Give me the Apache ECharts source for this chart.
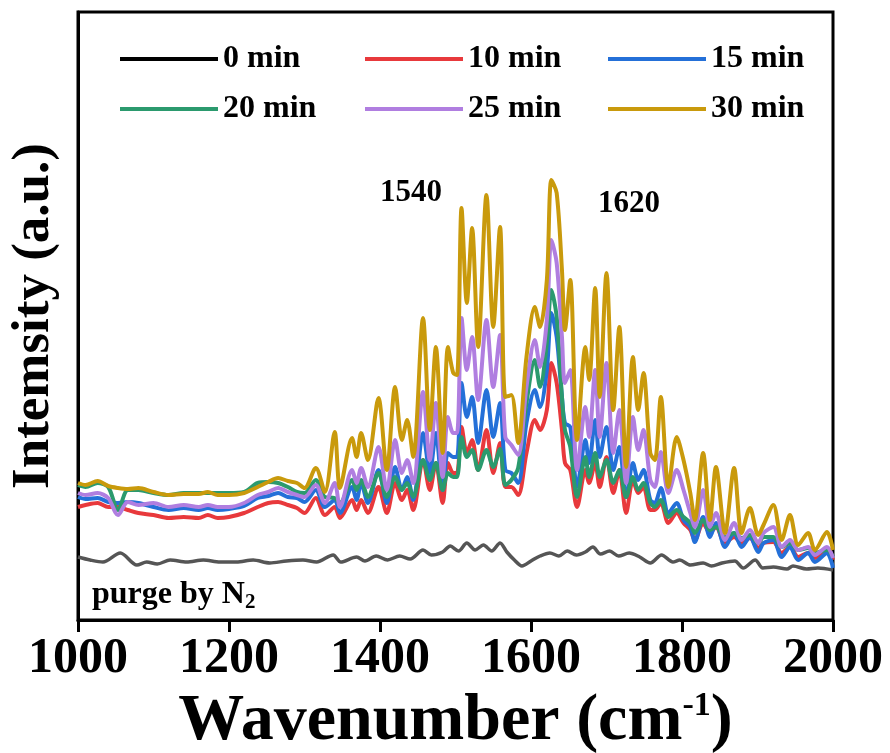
<!DOCTYPE html>
<html>
<head>
<meta charset="utf-8">
<script src="https://cdn.jsdelivr.net/npm/echarts@6/dist/echarts.min.js"></script>
<style>
  html, body { margin: 0; padding: 0; background: #fff; }
  #chart { width: 890px; height: 753px; }
</style>
</head>
<body>
<div id="chart"></div>
<script>
// wavenumber grid shared by the 10-30 min spectra (cm-1)
const wavenumbers = [1000,1010,1026,1040,1053,1066,1080,1100,1120,1140,1160,1172,1185,1200,1220,1238,1252,1265,1278,1290,1300,1315,1327,1340,1347,1363,1369,1375,1384,1398,1409,1420,1429,1436,1444,1457,1466,1474,1483,1490,1497,1502,1508,1515,1522,1530,1541,1550,1559,1566,1574,1583,1594,1605,1612,1621,1627,1634,1641,1645,1652,1661,1672,1677,1685,1691,1700,1709,1717,1726,1735,1742,1749,1758,1764,1772,1782,1793,1802,1811,1817,1828,1837,1845,1857,1869,1879,1890,1901,1908,1921,1932,1943,1954,1967,1976,1992,2000];

const min10 = [113,115,117,113,113,110,107,105,102,103,102,105,102,103,107,113,117,118,115,112,107,122,105,113,102,120,110,120,107,133,107,137,120,130,110,160,130,157,117,157,147,147,193,167,180,150,190,147,177,133,133,125,167,200,190,210,257,237,190,157,150,113,150,137,157,133,163,127,150,107,140,127,133,110,110,117,97,107,97,90,80,97,87,93,77,83,77,82,72,77,78,67,73,63,67,62,70,60];
const min15 = [123,121,122,118,117,118,117,113,110,112,110,112,110,111,114,122,124,127,123,122,118,130,113,120,107,133,120,137,117,150,117,153,130,143,120,187,147,187,130,167,163,163,237,203,223,177,230,183,217,150,147,137,197,230,213,250,307,283,223,197,193,133,180,157,200,163,193,150,173,123,157,140,150,120,117,132,107,117,100,93,78,103,83,97,73,87,73,83,68,77,80,63,73,60,67,58,67,52];
const min20 = [135,133,137,133,110,130,130,127,125,127,127,127,127,127,128,137,138,137,133,128,127,140,123,122,117,140,130,140,123,147,123,143,130,137,123,160,140,157,130,147,143,143,183,163,170,150,170,153,171,135,140,152,217,260,233,277,330,303,223,190,173,123,163,143,167,143,160,137,150,123,143,130,137,117,113,120,103,110,103,97,87,100,90,93,83,87,82,85,77,83,83,73,77,70,72,67,70,63];
const min25 = [127,125,127,122,105,118,115,117,113,115,113,115,113,113,117,125,128,132,128,125,123,135,117,137,113,150,137,152,133,173,130,180,147,160,137,228,160,217,143,203,187,187,302,250,283,220,300,233,285,183,175,165,233,280,253,300,380,357,283,237,250,150,213,183,250,183,257,167,210,137,203,170,190,140,133,168,127,150,130,107,93,130,93,107,80,97,80,90,77,87,93,73,80,70,73,65,73,62];
const min30 = [137,135,139,134,132,131,132,128,125,126,126,128,125,125,127,133,138,142,139,137,132,152,128,188,132,182,163,187,160,222,150,233,180,200,163,302,190,273,167,273,247,245,412,317,392,273,425,293,393,223,225,177,263,313,293,340,440,427,350,290,340,180,273,240,332,223,347,210,293,153,263,210,247,167,160,223,133,183,160,127,100,167,100,153,87,152,87,112,85,95,115,80,105,75,87,70,88,70];

// 0 min (purge by N2) has its own grid
const wavenumbers0 = [1000,1016,1033,1056,1078,1091,1105,1122,1144,1166,1188,1210,1232,1254,1276,1298,1316,1338,1348,1369,1380,1395,1410,1426,1440,1457,1468,1483,1493,1504,1515,1526,1537,1548,1559,1568,1578,1588,1600,1612,1625,1637,1648,1660,1672,1682,1692,1704,1716,1730,1744,1758,1773,1788,1797,1811,1828,1839,1853,1870,1881,1897,1907,1921,1939,1947,1965,1980,2000];
const min0 = [63,60,58,67,55,58,56,60,58,60,58,58,60,57,59,60,58,65,58,63,59,64,60,64,61,70,65,68,74,69,77,70,75,69,77,68,60,54,59,64,67,64,69,65,68,73,66,69,64,67,63,57,65,58,60,55,57,54,57,59,52,60,52,53,51,54,51,52,50];

const xTicks = [1000, 1200, 1400, 1600, 1800, 2000];
const seriesNames = ['0 min', '10 min', '15 min', '20 min', '25 min', '30 min'];

const serif = "'Liberation Serif', 'Times New Roman', serif";
const colors = ['#555555', '#e8393c', '#2470d8', '#2b9a6e', '#b07ee0', '#c99a0c'];

const zip = (xs, ys) => xs.map((x, i) => [x, ys[i]]);
const allData = [
  zip(wavenumbers0, min0),
  zip(wavenumbers, min10),
  zip(wavenumbers, min15),
  zip(wavenumbers, min20),
  zip(wavenumbers, min25),
  zip(wavenumbers, min30),
];

const legendBase = {
  orient: 'vertical',
  top: 38,
  icon: 'rect',
  itemWidth: 98,
  itemHeight: 4,
  itemGap: 18,
  textStyle: { fontFamily: serif, fontWeight: 'bold', fontSize: 32, color: '#000' },
};

const chart = echarts.init(document.getElementById('chart'));
chart.setOption({
  animation: false,
  backgroundColor: '#fff',
  grid: {
    left: 78, right: 57, top: 12, bottom: 133,
    outerBoundsMode: 'none',
    show: true, borderColor: '#000', borderWidth: 3,
  },
  legend: [
    { ...legendBase, left: 115, data: [{ name: '0 min', itemStyle: { color: '#000' } }, '20 min'] },
    { ...legendBase, left: 360, data: ['10 min', '25 min'] },
    { ...legendBase, left: 603, data: ['15 min', '30 min'] },
  ],
  xAxis: {
    type: 'value',
    min: 1000,
    max: 2000,
    interval: 200,
    name: '{a|Wavenumber (cm}{s|-1}{a|)}',
    nameLocation: 'middle',
    nameGap: 58,
    nameTextStyle: {
      rich: {
        a: { fontFamily: serif, fontWeight: 'bold', fontSize: 66, color: '#000' },
        s: { fontFamily: serif, fontWeight: 'bold', fontSize: 34, color: '#000', verticalAlign: 'top', padding: [0, 0, 32, 0] },
      },
    },
    axisLine: { lineStyle: { color: '#000', width: 3 } },
    axisTick: { length: 12, lineStyle: { color: '#000', width: 3 } },
    axisLabel: {
      margin: 14,
      fontFamily: serif,
      fontWeight: 'bold',
      fontSize: 50,
      color: '#000',
      formatter: (v) => (xTicks.includes(v) ? String(v) : ''),
    },
    splitLine: { show: false },
  },
  yAxis: {
    type: 'value',
    min: 0,
    max: 608,
    name: 'Intemsity (a.u.)',
    nameLocation: 'middle',
    nameGap: 17,
    nameRotate: 90,
    nameTextStyle: { fontFamily: serif, fontWeight: 'bold', fontSize: 53, color: '#000' },
    axisLine: { show: true, lineStyle: { color: '#000', width: 3 } },
    axisTick: { show: false },
    axisLabel: { show: false },
    splitLine: { show: false },
  },
  graphic: [
    { type: 'text', left: 380, top: 177, style: { text: '1540', fontFamily: serif, fontWeight: 'bold', fontSize: 31, fill: '#000' } },
    { type: 'text', left: 598, top: 188, style: { text: '1620', fontFamily: serif, fontWeight: 'bold', fontSize: 31, fill: '#000' } },
    {
      type: 'text', left: 92, top: 579,
      style: {
        text: '{a|purge by N}{b|2}',
        rich: {
          a: { fontFamily: serif, fontWeight: 'bold', fontSize: 32, fill: '#000' },
          b: { fontFamily: serif, fontWeight: 'bold', fontSize: 21, fill: '#000', padding: [16, 0, 0, 0] },
        },
      },
    },
  ],
  series: seriesNames.map((name, i) => ({
    name,
    type: 'line',
    data: allData[i],
    showSymbol: false,
    symbol: 'none',
    smooth: 0.3,
    color: colors[i],
    lineStyle: { width: i === 0 ? 3.5 : 4, color: colors[i] },
  })),
});
</script>
</body>
</html>
